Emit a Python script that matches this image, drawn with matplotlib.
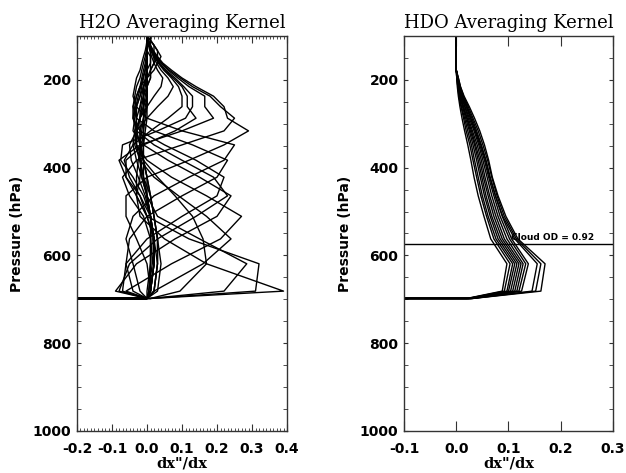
import matplotlib
matplotlib.use("Agg")
import matplotlib.pyplot as plt
from matplotlib.ticker import MultipleLocator, FormatStrFormatter
from matplotlib.font_manager import FontProperties

# retrieval pressure grid (hPa), last level = surface
levels = [100.0, 110.1, 121.2, 133.4, 146.8, 161.6, 177.8, 195.7, 215.4, 237.1, 261.0,
          287.3, 316.2, 348.1, 383.1, 421.7, 464.2, 510.9, 562.3, 619.0, 681.3, 698.0]
fill_p = 750.0      # first level below the surface, filled with -999
fill_val = -999.0

# H2O averaging kernel rows
h2o_b1 = [0, 0, 0, 0, 0, 0, 0, 0, 0, 0, 0, -.01, -.01, -.01, -.01, 0, 0, .01, .01, .01, 0, 0]
h2o_b2 = [0, 0, 0, 0, .01, .01, .01, .01, 0, 0, -.01, -.01, -.02, -.02, -.02, -.01, 0, .01, .02, .02, .01, 0]
h2o_b3 = [.01, .01, .01, .01, .01, .01, 0, 0, -.01, -.01, -.02, -.02, -.02, -.02, -.01, -.01, 0, .01, .02, .03, .02, 0]
h2o_b4 = [.01, .01, .02, .02, .02, .02, .01, .01, 0, -.01, -.01, -.02, -.03, -.03, -.02, -.01, .01, .02, .03, .03, .02, 0]
h2o_b5 = [0, .01, .02, .03, .03, .02, .01, 0, -.01, -.02, -.03, -.03, -.03, -.02, -.01, 0, .01, .02, .03, .04, .03, 0]
h2o_b6 = [0, .01, .02, .03, .04, .03, .02, 0, -.02, -.03, -.04, -.04, -.03, -.02, -.01, 0, .01, .02, .03, .03, .02, 0]
h2o_f1 = [0, .002, .004, .008, .013, .02, .03, .045, .04, .02, 0, -.02, -.035, -.04, -.03, -.015, 0, .01, .015, .01, .005, 0]
h2o_f2 = [0, .003, .006, .011, .018, .027, .04, .06, .075, .06, .03, 0, -.03, -.05, -.045, -.025, -.005, .01, .02, .015, .005, 0]
h2o_f3 = [0, .003, .007, .013, .021, .032, .048, .07, .09, .10, .10, .06, .01, -.04, -.065, -.05, -.02, 0, .02, .02, .01, 0]
h2o_f8 = [0, .003, .008, .014, .022, .034, .05, .075, .10, .115, .115, .14, .08, -.01, -.06, -.06, -.03, 0, .02, .02, .01, 0]
h2o_f4 = [0, .004, .008, .015, .024, .036, .054, .08, .105, .13, .13, .11, .03, -.07, -.075, -.04, -.01, .01, .02, .02, .01, 0]
h2o_f5 = [0, .004, .009, .016, .026, .04, .06, .088, .12, .165, .165, .19, .10, -.02, -.08, -.06, -.02, .01, .02, .02, .01, 0]
h2o_f6 = [0, .004, .009, .017, .028, .042, .064, .095, .13, .18, .21, .25, .22, .10, -.03, -.07, -.05, -.01, .01, .01, .01, 0]
h2o_f7 = [0, .004, .01, .018, .03, .045, .07, .10, .14, .19, .22, .23, .29, .22, .12, 0, -.06, -.06, -.03, 0, .01, 0]
h2o_m1 = [0, 0, -.002, -.005, -.01, -.015, -.02, -.03, -.035, -.04, -.03, 0, .10, .25, .22, .12, .02, -.04, -.06, -.04, -.02, 0]
h2o_m2 = [0, 0, 0, -.002, -.005, -.01, -.015, -.02, -.03, -.035, -.04, -.03, .02, .13, .23, .20, .10, 0, -.05, -.06, -.04, 0]
h2o_m3 = [0, 0, 0, 0, -.002, -.005, -.01, -.015, -.02, -.03, -.035, -.04, -.02, .05, .14, .22, .20, .10, 0, -.06, -.07, 0]
h2o_m7 = [0, 0, 0, 0, 0, -.002, -.006, -.012, -.018, -.025, -.032, -.038, -.03, .02, .10, .19, .23, .14, .03, -.05, -.08, 0]
h2o_m4 = [0, 0, 0, 0, 0, -.002, -.005, -.01, -.015, -.02, -.03, -.035, -.04, -.01, .06, .15, .24, .20, .08, -.03, -.09, 0]
h2o_m5 = [0, 0, 0, 0, 0, 0, -.002, -.005, -.01, -.015, -.02, -.03, -.035, -.03, 0, .07, .17, .27, .21, .07, -.06, 0]
h2o_m6 = [0, 0, 0, 0, 0, 0, 0, -.002, -.005, -.01, -.015, -.02, -.03, -.035, -.02, .02, .09, .17, .24, .16, .02, 0]
h2o_r1 = [0, 0, 0, 0, 0, 0, 0, 0, 0, 0, -.005, -.01, -.015, -.02, -.02, -.015, 0, .03, .15, .285, .22, .01]
h2o_r2 = [0, 0, 0, 0, 0, 0, 0, 0, 0, 0, 0, -.005, -.01, -.015, -.025, -.03, -.03, 0, .12, .32, .31, .01]
h2o_r3 = [0, 0, 0, 0, 0, 0, 0, 0, 0, 0, 0, 0, -.005, -.01, -.015, -.02, -.03, -.02, .05, .17, .39, .01]
h2o_r4 = [0, 0, 0, 0, 0, 0, 0, 0, 0, -.005, -.01, -.02, -.03, -.03, -.01, .03, .08, .13, .16, .17, .094, .01]

h2o_rows = [h2o_b1, h2o_b2, h2o_b3, h2o_b4, h2o_b5, h2o_b6,
            h2o_f1, h2o_f2, h2o_f3, h2o_f8, h2o_f4, h2o_f5, h2o_f6, h2o_f7,
            h2o_m1, h2o_m2, h2o_m3, h2o_m7, h2o_m4, h2o_m5, h2o_m6,
            h2o_r1, h2o_r2, h2o_r3, h2o_r4]

# HDO averaging kernel rows
hdo_1 = [0, 0, 0, 0, 0, 0, 0, .001, .002, .004, .007, .011, .016, .022, .028, .034, .042, .053, .066, .097, .088, .020]
hdo_2 = [0, 0, 0, 0, 0, 0, 0, .001, .003, .005, .009, .014, .019, .026, .032, .039, .047, .058, .072, .103, .092, .022]
hdo_3 = [0, 0, 0, 0, 0, 0, 0, .001, .003, .006, .010, .016, .022, .029, .035, .042, .050, .061, .076, .108, .097, .023]
hdo_4 = [0, 0, 0, 0, 0, 0, 0, .002, .004, .007, .012, .018, .025, .032, .039, .046, .054, .065, .080, .112, .100, .024]
hdo_5 = [0, 0, 0, 0, 0, 0, 0, .002, .004, .008, .013, .020, .027, .035, .042, .049, .057, .068, .084, .116, .104, .025]
hdo_6 = [0, 0, 0, 0, 0, 0, 0, .002, .005, .009, .014, .021, .029, .037, .045, .052, .061, .072, .088, .120, .108, .026]
hdo_7 = [0, 0, 0, 0, 0, 0, 0, .002, .005, .010, .016, .023, .031, .040, .048, .055, .064, .076, .092, .124, .112, .027]
hdo_8 = [0, 0, 0, 0, 0, 0, 0, .003, .006, .011, .017, .025, .034, .043, .051, .059, .068, .080, .097, .128, .116, .028]
hdo_9 = [0, 0, 0, 0, 0, 0, 0, .003, .006, .012, .019, .027, .036, .045, .054, .062, .072, .084, .102, .133, .120, .029]
hdo_10 = [0, 0, 0, 0, 0, 0, 0, .003, .007, .013, .021, .030, .039, .048, .057, .065, .075, .088, .106, .138, .125, .030]
hdo_11 = [0, 0, 0, 0, 0, 0, 0, .003, .007, .012, .020, .028, .037, .047, .056, .064, .075, .089, .112, .155, .145, .030]
hdo_12 = [0, 0, 0, 0, 0, 0, 0, .004, .008, .014, .023, .032, .042, .051, .060, .068, .078, .092, .115, .162, .152, .031]
hdo_13 = [0, 0, 0, 0, 0, 0, 0, .004, .008, .015, .025, .035, .045, .054, .062, .069, .080, .095, .118, .170, .162, .032]

hdo_rows = [hdo_1, hdo_2, hdo_3, hdo_4, hdo_5, hdo_6, hdo_7,
            hdo_8, hdo_9, hdo_10, hdo_11, hdo_12, hdo_13]

cloud_p = 573.0
cloud_od = 0.92

p_full = levels + [fill_p]

fig = plt.figure(figsize=(6.26, 4.73), dpi=100)
ax1 = fig.add_axes([0.123, 0.0888, 0.3355, 0.8351])
ax2 = fig.add_axes([0.6454, 0.0888, 0.3338, 0.8351])

for row in h2o_rows:
    ax1.plot(row + [fill_val], p_full, color='black', lw=1.0)

for row in hdo_rows:
    ax2.plot(row + [fill_val], p_full, color='black', lw=1.0)

ax2.axhline(cloud_p, color='black', lw=1.0)
ax2.text(0.104, cloud_p - 4, 'Cloud OD = %.2f' % cloud_od, fontsize=6.5,
         fontweight='bold', family='DejaVu Sans', va='bottom', ha='left')

tickfont = FontProperties(family='DejaVu Sans', weight='bold', size=10)

ax1.set_xlim(-0.2, 0.4)
ax1.set_xticks([-0.2, -0.1, 0.0, 0.1, 0.2, 0.3, 0.4])
ax1.xaxis.set_minor_locator(MultipleLocator(0.01))
ax2.set_xlim(-0.1, 0.3)
ax2.set_xticks([-0.1, 0.0, 0.1, 0.2, 0.3])

for ax, title in [(ax1, 'H2O Averaging Kernel'), (ax2, 'HDO Averaging Kernel')]:
    ax.set_ylim(1000, 100)
    ax.set_yticks([200, 400, 600, 800, 1000])
    ax.yaxis.set_minor_locator(MultipleLocator(50))
    ax.xaxis.set_major_formatter(FormatStrFormatter('%.1f'))
    for lab in ax.get_xticklabels() + ax.get_yticklabels():
        lab.set_fontproperties(tickfont)
    ax.tick_params(which='both', direction='in', top=True, right=True, color='#333333')
    ax.tick_params(axis='y', which='both', length=3, pad=4)
    ax.tick_params(axis='x', which='major', pad=8)
    for s in ax.spines.values():
        s.set_linewidth(1.0)
        s.set_color('#333333')
    ax.set_title(title, fontsize=13, family='DejaVu Serif', pad=6)
    ax.set_ylabel('Pressure (hPa)', fontsize=10, fontweight='bold', family='DejaVu Sans', labelpad=6)
    ax.set_xlabel('dx"/dx', fontsize=10.5, fontweight='bold', family='DejaVu Serif', labelpad=0)

ax1.tick_params(axis='x', which='major', length=5)
ax1.tick_params(axis='x', which='minor', length=2.5)
ax2.tick_params(axis='x', which='major', length=7)

plt.savefig('out.png', dpi=100)
